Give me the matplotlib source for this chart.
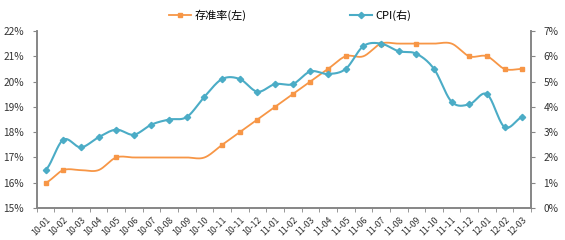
import numpy as np
import matplotlib.pyplot as plt
from matplotlib.ticker import FixedLocator, PercentFormatter

plt.rcParams['font.family'] = ['Noto Sans CJK SC', 'DejaVu Sans']

# month labels (10-11 shows up twice: two RRR changes that month)
months = ['10-01', '10-02', '10-03', '10-04', '10-05', '10-06', '10-07', '10-08',
          '10-09', '10-10', '10-11', '10-11', '10-12', '11-01', '11-02', '11-03',
          '11-04', '11-05', '11-06', '11-07', '11-08', '11-09', '11-10', '11-11',
          '11-12', '12-01', '12-02', '12-03']

# reserve requirement ratio, left axis (%)
rrr = [16.0, 16.5, 16.5, 16.5, 17.0, 17.0, 17.0, 17.0, 17.0, 17.0, 17.5, 18.0,
       18.5, 19.0, 19.5, 20.0, 20.5, 21.0, 21.0, 21.5, 21.5, 21.5, 21.5, 21.5,
       21.0, 21.0, 20.5, 20.5]
# only the change points carry a marker
rrr_marks = [0, 1, 4, 10, 11, 12, 13, 14, 15, 16, 17, 19, 21, 24, 25, 26, 27]

# CPI yoy, right axis (%)
cpi = [1.5, 2.7, 2.4, 2.8, 3.1, 2.9, 3.3, 3.5, 3.6, 4.4, 5.1, 5.1, 4.6, 4.9,
       4.9, 5.4, 5.3, 5.5, 6.4, 6.5, 6.2, 6.1, 5.5, 4.2, 4.1, 4.5, 3.2, 3.6]

orange = '#F79646'
teal = '#4BACC6'
grey = '#868686'


def smooth(y, n=20):
    # excel-ish smoothed line: catmull-rom as cubic bezier
    y = np.asarray(y, float)
    x = np.arange(len(y), dtype=float)
    xs, ys = [], []
    for i in range(len(y) - 1):
        x0, x3 = x[i], x[i + 1]
        y0, y3 = y[i], y[i + 1]
        yp = y[i - 1] if i > 0 else y0
        yn = y[i + 2] if i + 2 < len(y) else y3
        y1 = y0 + (y3 - yp) / 6
        y2 = y3 - (yn - y0) / 6
        t = np.linspace(0, 1, n, endpoint=False)
        xs.append((1 - t) ** 3 * x0 + 3 * (1 - t) ** 2 * t * (x0 + 1 / 3) + 3 * (1 - t) * t ** 2 * (x3 - 1 / 3) + t ** 3 * x3)
        ys.append((1 - t) ** 3 * y0 + 3 * (1 - t) ** 2 * t * y1 + 3 * (1 - t) * t ** 2 * y2 + t ** 3 * y3)
    xs.append([x[-1]])
    ys.append([y[-1]])
    return np.concatenate(xs), np.concatenate(ys)


fig = plt.figure(figsize=(5.65, 2.4), dpi=100)
ax = fig.add_axes([0.065, 0.133, 0.875, 0.738])
ax2 = ax.twinx()

idx = np.arange(len(months))

sx, sy = smooth(rrr)
ax.plot(sx, sy, color=orange, lw=1.3)
ax.plot(idx[rrr_marks], np.array(rrr)[rrr_marks], ls='none', marker='s', ms=3.2, color=orange)
l1, = ax.plot([], [], color=orange, lw=1.3, marker='s', ms=3.2)

cx, cy = smooth(cpi)
ax2.plot(cx, cy, color=teal, lw=1.5)
ax2.plot(idx, cpi, ls='none', marker='D', ms=3.2, color=teal)
l2, = ax2.plot([], [], color=teal, lw=1.5, marker='D', ms=3.2)

ax.set_xlim(-0.5, len(months) - 0.5)
ax.set_ylim(15, 22)
ax2.set_ylim(0, 7)
ax.set_yticks(np.arange(15, 23, 1))
ax2.set_yticks(np.arange(0, 8, 1))
ax.yaxis.set_major_formatter(PercentFormatter(decimals=0))
ax2.yaxis.set_major_formatter(PercentFormatter(decimals=0))

ax.set_xticks(idx)
ax.set_xticklabels(months, rotation=45, ha='right', rotation_mode='anchor', fontsize=6.3, color='#333333')
ax.xaxis.set_minor_locator(FixedLocator(np.arange(-0.5, len(months), 1)))
ax.tick_params(axis='x', which='major', length=0, pad=5)
ax.tick_params(axis='x', which='minor', length=3, color=grey)
ax.tick_params(axis='y', length=3, color=grey, labelsize=7.3, labelcolor='#333333', pad=6)
ax2.tick_params(axis='y', length=3, color=grey, labelsize=7.3, labelcolor='#333333', pad=6)

for a in (ax, ax2):
    a.spines['top'].set_visible(False)
    for s in ('left', 'right', 'bottom'):
        a.spines[s].set_color(grey)
        a.spines[s].set_linewidth(1.2)

fig.legend([l1, l2], ['存准率(左)', 'CPI(右)'], loc='upper center', bbox_to_anchor=(0.514, 1.0),
           ncol=2, frameon=False, fontsize=8, columnspacing=9.3, handlelength=2.0, handletextpad=0.3)

fig.savefig('out.png', dpi=100)
